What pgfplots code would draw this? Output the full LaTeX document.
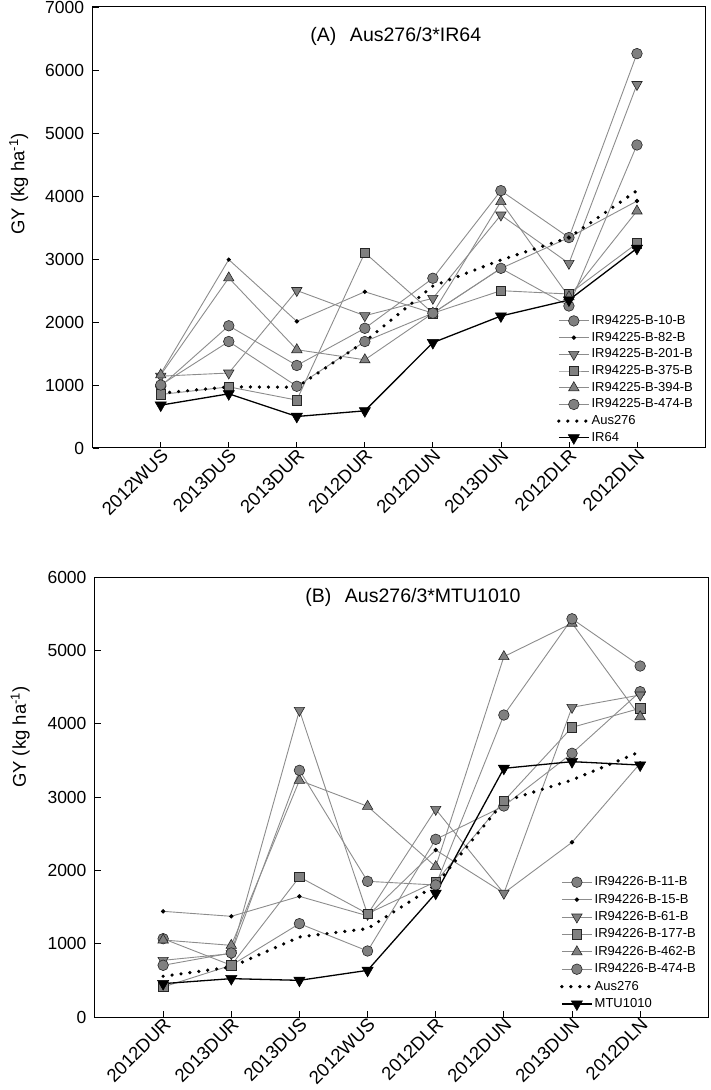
\documentclass[border=0pt]{standalone}
\usepackage{fontspec}
\setmainfont{Liberation Sans}
\usepackage{pgfplots}
\pgfplotsset{compat=1.18}

\definecolor{lgray}{gray}{0.55}
\definecolor{mgray}{gray}{0.5}

\pgfplotsset{
  panel/.style={
    scale only axis,
    xmin=-1, xmax=8, xtick={0,...,7}, ymin=0,
    tick align=inside, tick pos=left,
    major tick length=6pt,
    every tick/.style={black, line width=0.8pt},
    axis line style={black, line width=1pt},
    /pgf/number format/assume math mode=true,
    /pgf/number format/1000 sep={},
    yticklabel style={font=\fontsize{17.5}{19}\selectfont, xshift=-5pt},
    xticklabel style={font=\fontsize{18.5}{20}\selectfont, rotate=45, anchor=east, inner sep=0pt, yshift=-6pt},
    legend cell align=left,
    legend image code/.code={\draw[mark repeat=2,mark phase=2,##1] plot coordinates {(0pt,0pt) (15pt,0pt) (30pt,0pt)};},
    clip=false,
  },
  gcirc/.style={color=lgray, line width=0.9pt, mark=*, mark size=5.3pt, mark options={fill=mgray, draw=black!85, line width=0.6pt, solid}},
  gdot/.style={color=lgray, line width=0.9pt, mark=*, mark size=1.7pt, mark options={fill=black, draw=black, solid}},
  gdown/.style={color=lgray, line width=0.9pt, mark=triangle*, mark size=6pt, mark options={rotate=180, fill=mgray, draw=black!85, line width=0.6pt, solid}},
  gsq/.style={color=lgray, line width=0.9pt, mark=square*, mark size=4.7pt, mark options={fill=mgray, draw=black!85, line width=0.6pt, solid}},
  gup/.style={color=lgray, line width=0.9pt, mark=triangle*, mark size=6pt, mark options={fill=mgray, draw=black!85, line width=0.6pt, solid}},
  aus/.style={black, line width=3.6pt, line cap=round, dash pattern=on 0pt off 9pt, mark=none},
  blk/.style={black, line width=1.3pt, mark=triangle*, mark size=6.5pt, mark options={rotate=180, fill=black, draw=black, solid, line width=0.5pt}},
}

\begin{document}
\begin{tikzpicture}
\useasboundingbox (0,0) rectangle (711pt,1090pt);

% ---------- Panel A ----------
\begin{axis}[panel,
  at={(92.7pt,642pt)}, anchor=south west,
  width=612.3pt, height=441pt,
  ymax=7000, ytick={0,1000,...,7000},
  xticklabels={2012WUS,2013DUS,2013DUR,2012DUR,2012DUN,2013DUN,2012DLR,2012DLN},
  ylabel={GY (kg ha\textsuperscript{-1})},
  ylabel style={font=\fontsize{18.5}{20}\selectfont, at={(axis description cs:-0.121,0.599)}, anchor=center},
  legend style={at={(0.758,0.3045)}, anchor=north west, draw=none, fill=none, inner sep=0pt, row sep=2.7pt,
    font=\fontsize{13}{15}\selectfont, nodes={inner sep=1pt, text height=9.5pt, text depth=2.5pt}},
]
\addplot[gcirc] coordinates {(0,980)(1,1940)(2,1310)(3,1900)(4,2694)(5,4085)(6,3340)(7,6260)};
\addlegendentry{IR94225-B-10-B}
\addplot[gdot] coordinates {(0,1180)(1,2990)(2,2010)(3,2480)(4,2140)(5,2850)(6,3340)(7,3920)};
\addlegendentry{IR94225-B-82-B}
\addplot[gdown] coordinates {(0,1140)(1,1190)(2,2500)(3,2100)(4,2376)(5,3698)(6,2931)(7,5770)};
\addlegendentry{IR94225-B-201-B}
\addplot[gsq] coordinates {(0,850)(1,970)(2,760)(3,3100)(4,2140)(5,2497)(6,2444)(7,3249)};
\addlegendentry{IR94225-B-375-B}
\addplot[gup] coordinates {(0,1160)(1,2700)(2,1560)(3,1400)(4,2140)(5,3910)(6,2400)(7,3762)};
\addlegendentry{IR94225-B-394-B}
\addplot[gcirc] coordinates {(0,1000)(1,1690)(2,980)(3,1690)(4,2140)(5,2852)(6,2254)(7,4810)};
\addlegendentry{IR94225-B-474-B}
\addplot[aus] coordinates {(0,870)(1,970)(2,965)(3,1690)(4,2570)(5,2984)(6,3339)(7,4085)};
\addlegendentry{Aus276}
\addplot[blk] coordinates {(0,680)(1,860)(2,500)(3,590)(4,1672)(5,2095)(6,2349)(7,3169)};
\addlegendentry{IR64}
\node[anchor=base, font=\fontsize{19.5}{21}\selectfont] at (axis description cs:0.495,0.921) {(A)\hspace{0.7em}Aus276/3*IR64};
\end{axis}

% ---------- Panel B ----------
\begin{axis}[panel,
  at={(95pt,73pt)}, anchor=south west,
  width=613.3pt, height=440pt,
  ymax=6000, ytick={0,1000,...,6000},
  xticklabels={2012DUR,2013DUR,2013DUS,2012WUS,2012DLR,2012DUN,2013DUN,2012DLN},
  ylabel={GY (kg ha\textsuperscript{-1})},
  ylabel style={font=\fontsize{18.5}{20}\selectfont, at={(axis description cs:-0.122,0.636)}, anchor=center},
  legend style={at={(0.758,0.3227)}, anchor=north west, draw=none, fill=none, inner sep=0pt, row sep=3.4pt,
    font=\fontsize{13}{15}\selectfont, nodes={inner sep=1pt, text height=9.5pt, text depth=2.5pt}},
]
\addplot[gcirc] coordinates {(0,1068)(1,705)(2,1273)(3,900)(4,2423)(5,2877)(6,3596)(7,4436)};
\addlegendentry{IR94226-B-11-B}
\addplot[gdot] coordinates {(0,1441)(1,1373)(2,1645)(3,1380)(4,2277)(5,1690)(6,2382)(7,3459)};
\addlegendentry{IR94226-B-15-B}
\addplot[gdown] coordinates {(0,773)(1,864)(2,4182)(3,1400)(4,2832)(5,1687)(6,4223)(7,4391)};
\addlegendentry{IR94226-B-61-B}
\addplot[gsq] coordinates {(0,409)(1,705)(2,1909)(3,1409)(4,1845)(5,2945)(6,3950)(7,4209)};
\addlegendentry{IR94226-B-177-B}
\addplot[gup] coordinates {(0,1050)(1,977)(2,3227)(3,2873)(4,2050)(5,4914)(6,5370)(7,4095)};
\addlegendentry{IR94226-B-462-B}
\addplot[gcirc] coordinates {(0,705)(1,873)(2,3364)(3,1850)(4,1800)(5,4118)(6,5430)(7,4786)};
\addlegendentry{IR94226-B-474-B}
\addplot[aus] coordinates {(0,555)(1,682)(2,1091)(3,1205)(4,1800)(5,2940)(6,3232)(7,3618)};
\addlegendentry{Aus276}
\addplot[blk] coordinates {(0,455)(1,523)(2,500)(3,636)(4,1687)(5,3391)(6,3482)(7,3436)};
\addlegendentry{MTU1010}
\node[anchor=base, font=\fontsize{19.5}{21}\selectfont] at (axis description cs:0.5185,0.941) {(B)\hspace{0.7em}Aus276/3*MTU1010};
\end{axis}
\end{tikzpicture}
\end{document}
